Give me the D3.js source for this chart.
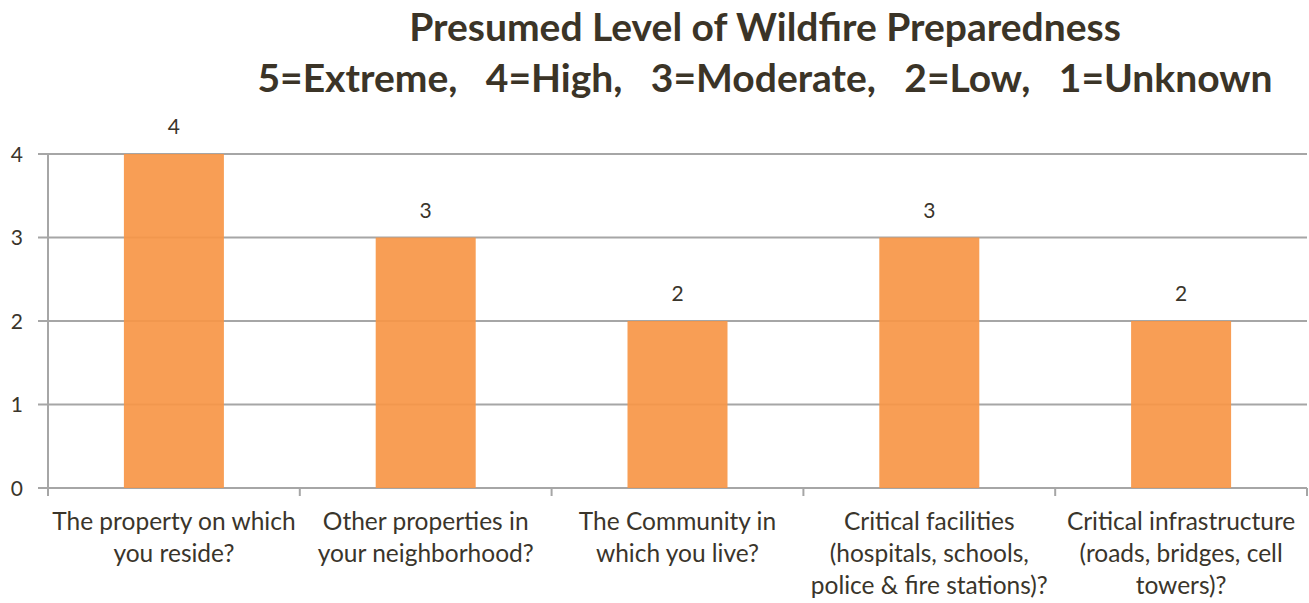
<!DOCTYPE html>
<html>
<head>
<meta charset="utf-8">
<script src="https://cdn.jsdelivr.net/npm/d3@7/dist/d3.min.js"></script>
<style>
  html, body { margin: 0; padding: 0; background: #fff; }
  svg { display: block; font-family: Lato, "Open Sans", sans-serif; }
</style>
</head>
<body>
<svg id="chart" width="1309" height="603"></svg>
<script>
// Survey questions (each label split into its wrapped lines)
const categories = [
  ["The property on which", "you reside?"],
  ["Other properties in", "your neighborhood?"],
  ["The Community in", "which you live?"],
  ["Critical facilities", "(hospitals, schools,", "police & fire stations)?"],
  ["Critical infrastructure", "(roads, bridges, cell", "towers)?"]
];
// Presumed preparedness level for each question
const values = [4, 3, 2, 3, 2];
const yTicks = [0, 1, 2, 3, 4];
const titleLines = [
  "Presumed Level of Wildfire Preparedness",
  "5=Extreme,   4=High,   3=Moderate,   2=Low,   1=Unknown"
];

const svg = d3.select("#chart");
const textColor = "#3a352b";
const gridColor = "#a6a6a6";
const barColor = "#F79646";

const margin = { left: 48, right: 2 };
const W = 1309;

// Band geometry: each category band ~252px, bar ~100px centred in it
const step = (W - margin.right - margin.left) / categories.length;
const pad = 1 - 100 / step;
const x = d3.scaleBand()
  .domain(d3.range(categories.length))
  .range([margin.left, W - margin.right])
  .paddingInner(pad)
  .paddingOuter(pad / 2);

const y = d3.scaleLinear().domain([0, 4]).range([488, 154]);

// Horizontal gridlines + left tick marks
svg.append("g").selectAll("line")
  .data(yTicks)
  .join("line")
  .attr("x1", margin.left - 10)
  .attr("x2", W - margin.right)
  .attr("y1", d => y(d))
  .attr("y2", d => y(d))
  .attr("stroke", gridColor)
  .attr("stroke-width", 2);

// Y tick labels
svg.append("g").selectAll("text")
  .data(yTicks)
  .join("text")
  .attr("x", 23)
  .attr("y", d => y(d))
  .attr("dy", "0.36em")
  .attr("text-anchor", "end")
  .attr("fill", textColor)
  .style("font-size", "21px")
  .text(d => d);

// Bars
svg.append("g").selectAll("rect")
  .data(values)
  .join("rect")
  .attr("x", (d, i) => x(i))
  .attr("width", x.bandwidth())
  .attr("y", d => y(d))
  .attr("height", d => y(0) - y(d))
  .attr("fill", barColor)
  .attr("fill-opacity", 0.92);

// Y axis line
svg.append("line")
  .attr("x1", margin.left).attr("x2", margin.left)
  .attr("y1", y(4)).attr("y2", y(0) + 8)
  .attr("stroke", gridColor).attr("stroke-width", 2);

// Category separator ticks below the baseline
const sepX = d3.range(1, categories.length + 1).map(i => margin.left + step * i);
svg.append("g").selectAll("line")
  .data(sepX)
  .join("line")
  .attr("x1", d => Math.min(d, W - 2)).attr("x2", d => Math.min(d, W - 2))
  .attr("y1", y(0)).attr("y2", y(0) + 8)
  .attr("stroke", gridColor).attr("stroke-width", 2);

// Value labels above bars
svg.append("g").selectAll("text")
  .data(values)
  .join("text")
  .attr("x", (d, i) => x(i) + x.bandwidth() / 2)
  .attr("y", d => y(d) - 20)
  .attr("text-anchor", "middle")
  .attr("fill", textColor)
  .style("font-size", "21px")
  .text(d => d);

// Category labels
const catG = svg.append("g").selectAll("text")
  .data(categories)
  .join("text")
  .attr("text-anchor", "middle")
  .attr("fill", textColor)
  .style("font-size", "24.5px")
  .attr("transform", (d, i) => `translate(${x(i) + x.bandwidth() / 2},530)`);
catG.selectAll("tspan")
  .data(d => d)
  .join("tspan")
  .attr("x", 0)
  .attr("y", (d, j) => j * 32)
  .text(d => d);

// Title
svg.append("g").selectAll("text")
  .data(titleLines)
  .join("text")
  .attr("x", 765)
  .attr("y", (d, i) => 41 + i * 51)
  .attr("text-anchor", "middle")
  .attr("fill", "#3b3427")
  .style("font-size", "39px")
  .style("font-weight", "bold")
  .attr("xml:space", "preserve")
  .style("white-space", "pre")
  .text(d => d);
</script>
</body>
</html>
